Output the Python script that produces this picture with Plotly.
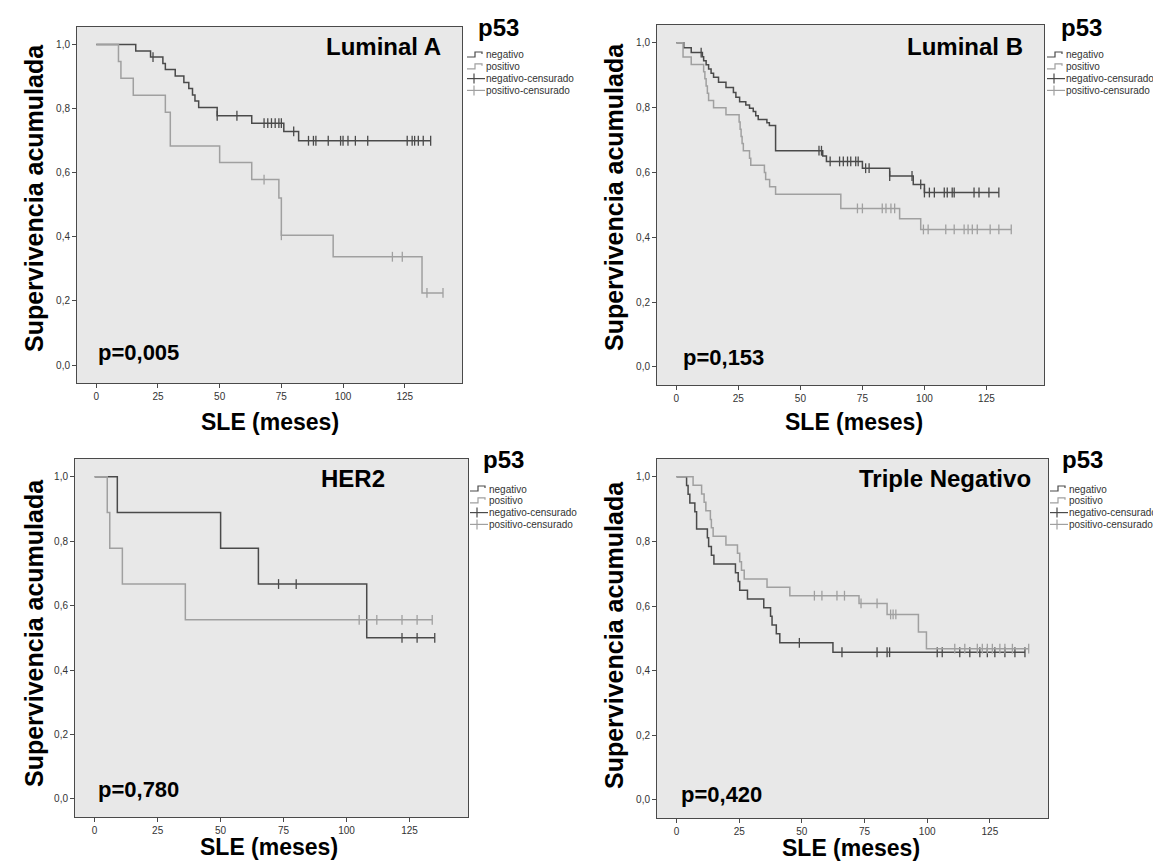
import plotly.graph_objects as go

W, H = 1161, 863

# ---------------- data ----------------
panel_names = ["Luminal A", "Luminal B", "HER2", "Triple Negativo"]
p_values = ["p=0,005", "p=0,153", "p=0,780", "p=0,420"]
legend_labels = ["negativo", "positivo", "negativo-censurado", "positivo-censurado"]
x_ticks = [0, 25, 50, 75, 100, 125]
y_ticks = [0.0, 0.2, 0.4, 0.6, 0.8, 1.0]

# Luminal A
la_neg_t = [16, 22, 27, 28, 32, 35.5, 37.5, 39, 40, 41.5, 49, 63, 76, 82]
la_neg_s = [0.980, 0.961, 0.941, 0.922, 0.902, 0.882, 0.863, 0.843, 0.824, 0.804, 0.778, 0.755, 0.729, 0.700]
la_neg_end = 135.5
la_neg_cens = [23, 49, 57, 68, 69.5, 71, 72.5, 74, 75, 80, 86, 88, 89, 94, 99, 100, 102, 105, 110,
               126, 128, 129, 130.5, 132.5, 135.5]
la_pos_t = [9, 10, 15, 28, 30, 50, 63, 74, 75, 96, 132]
la_pos_s = [0.947, 0.895, 0.842, 0.789, 0.684, 0.632, 0.579, 0.521, 0.405, 0.338, 0.225]
la_pos_end = 140.5
la_pos_cens = [68, 75, 120, 124, 134, 140.5]

# Luminal B
lb_neg_t = [3, 6, 10.5, 11, 12, 13, 14, 15, 17, 20, 23, 24, 25.5, 28, 29.5, 31, 32, 33, 36.5, 37.5,
            40, 59, 60.5, 75, 86, 95.5, 100]
lb_neg_s = [0.985, 0.970, 0.957, 0.945, 0.932, 0.919, 0.906, 0.894, 0.878, 0.862, 0.847, 0.832, 0.818,
            0.808, 0.798, 0.788, 0.775, 0.763, 0.753, 0.745, 0.667, 0.651, 0.634, 0.613, 0.589, 0.563, 0.538]
lb_neg_end = 130
lb_neg_cens = [10, 57.5, 58.5, 62, 65.8, 67.3, 69, 70.3, 72.3, 73.3, 76.3, 77.7, 86, 95, 98.5, 100,
               102, 104, 108, 109.2, 111.2, 112, 120, 122, 126, 130]
lb_pos_t = [2.7, 6, 11, 11.5, 12, 12.5, 13, 15, 20, 25.3, 25.7, 26.1, 26.5, 27, 29.5, 30, 35.5, 36,
            37.6, 40, 66.3, 90, 98.5]
lb_pos_s = [0.956, 0.933, 0.911, 0.889, 0.867, 0.844, 0.822, 0.800, 0.778, 0.756, 0.733, 0.711, 0.689,
            0.667, 0.644, 0.622, 0.600, 0.578, 0.556, 0.533, 0.489, 0.457, 0.424]
lb_pos_end = 135
lb_pos_cens = [73, 75, 83, 84.5, 86.5, 88, 99.6, 101.5, 108.6, 112, 116, 117.6, 119.3, 121.3, 126.5,
               130, 135]

# HER2
h_neg_t = [9, 50, 65, 108]
h_neg_s = [0.889, 0.778, 0.667, 0.500]
h_neg_end = 135
h_neg_cens = [73, 80, 122, 128, 135]
h_pos_t = [5, 6, 11, 36]
h_pos_s = [0.889, 0.778, 0.667, 0.556]
h_pos_end = 134
h_pos_cens = [105, 112, 122, 128, 134]

# Triple Negativo
tn_neg_t = [4, 4.6, 5.3, 7.3, 8, 12.3, 12.8, 13.9, 14.9, 23.5, 24.6, 25.2, 28.3, 34.8, 37.5, 38.1,
            39.8, 41.2, 62.4]
tn_neg_s = [0.973, 0.946, 0.919, 0.892, 0.838, 0.811, 0.784, 0.757, 0.730, 0.703, 0.676, 0.649, 0.622,
            0.595, 0.568, 0.541, 0.514, 0.486, 0.457]
tn_neg_end = 139
tn_neg_cens = [49, 66, 80, 84, 85, 104, 106, 113, 117, 121, 124, 127, 131, 135, 139]
tn_pos_t = [6.6, 10, 11, 11.7, 13.5, 13.9, 14.6, 19.7, 24.3, 25.2, 25.9, 27, 36.1, 45.2, 72.8, 84,
            96.5, 99.7]
tn_pos_s = [0.974, 0.947, 0.921, 0.895, 0.868, 0.842, 0.816, 0.789, 0.763, 0.737, 0.711, 0.684, 0.658,
            0.632, 0.608, 0.574, 0.520, 0.468]
tn_pos_end = 140.5
tn_pos_cens = [55, 58, 64, 67, 73.6, 80, 85.4, 86.4, 87.5, 111, 115, 120, 122, 124, 126, 129, 131, 134,
               140.5]

series = [
    ((la_neg_t, la_neg_s, la_neg_end, la_neg_cens), (la_pos_t, la_pos_s, la_pos_end, la_pos_cens)),
    ((lb_neg_t, lb_neg_s, lb_neg_end, lb_neg_cens), (lb_pos_t, lb_pos_s, lb_pos_end, lb_pos_cens)),
    ((h_neg_t, h_neg_s, h_neg_end, h_neg_cens), (h_pos_t, h_pos_s, h_pos_end, h_pos_cens)),
    ((tn_neg_t, tn_neg_s, tn_neg_end, tn_neg_cens), (tn_pos_t, tn_pos_s, tn_pos_end, tn_pos_cens)),
]

# ---------------- style / layout ----------------
NEG = "#4a4a4a"
POS = "#a0a0a0"
BG = "#e8e8e8"
FRAME = "#4a4a4a"
FONT = "Liberation Sans, Arial, sans-serif"
NARROW = "Liberation Sans Narrow, Liberation Sans, Arial, sans-serif"

# plot boxes in pixels: (left, right, top, bottom)
boxes = [(69, 454, 19, 375), (649, 1036, 17, 377), (67, 460, 451, 809), (649, 1040, 451, 810)]
XR = [-7.8, 148.2]
YR = [-0.056, 1.055]


def px(x):
    return x / W


def py(y):
    return 1 - y / H


def surv_at(times, survs, t):
    s = 1.0
    for ti, si in zip(times, survs):
        if ti <= t:
            s = si
    return s


fig = go.Figure()
annotations = []
shapes = []

for i, (box, (neg, pos)) in enumerate(zip(boxes, series)):
    k = "" if i == 0 else str(i + 1)
    xa, ya = "x" + k, "y" + k
    for (t, s, end, cens), col, name in ((neg, NEG, "negativo"), (pos, POS, "positivo")):
        xs = [0] + list(t) + [end]
        ys = [1.0] + list(s) + [s[-1]]
        fig.add_trace(go.Scatter(x=xs, y=ys, mode="lines", line=dict(color=col, width=1.5, shape="hv"),
                                 xaxis=xa, yaxis=ya, showlegend=False, name=name, hoverinfo="skip"))
        cy = [surv_at(t, s, c) for c in cens]
        fig.add_trace(go.Scatter(x=cens, y=cy, mode="markers",
                                 marker=dict(symbol="line-ns", size=7, line=dict(color=col, width=1.3)),
                                 xaxis=xa, yaxis=ya, showlegend=False, name=name + "-censurado",
                                 hoverinfo="skip"))
    l, r, tp, b = box
    axstyle = dict(showline=True, mirror=True, linecolor=FRAME, linewidth=1, ticks="outside",
                   ticklen=4, tickcolor=FRAME, tickwidth=1, showgrid=False, zeroline=False,
                   tickfont=dict(family=NARROW, size=10, color="#333333"))
    fig.update_layout(**{
        "xaxis" + k: dict(domain=[px(l), px(r)], range=XR, anchor=ya, tickvals=x_ticks, **axstyle),
        "yaxis" + k: dict(domain=[py(b), py(tp)], range=YR, anchor=xa, tickvals=y_ticks,
                          tickformat=".1f", **axstyle),
    })
    shapes.append(dict(type="rect", xref="paper", yref="paper", x0=px(l), x1=px(r), y0=py(b), y1=py(tp),
                       fillcolor=BG, line=dict(width=0), layer="below"))

# text positions (pixels)
name_pos = [(435, 38, "right"), (1017, 38, "right"), (345, 471, "center"), (1025, 471, "right")]
p_pos = [(88, 344), (673, 349), (88, 781), (671, 786)]
p53_pos = [(490, 20), (1073, 19), (495, 451), (1074, 452)]
ytitle_pos = [(26, 190), (606, 189), (26, 625), (606, 627)]
xtitle_pos = [(262, 414), (846, 414), (261, 839), (843, 840)]
legend_x = [459, 1039, 462, 1042]
legend_y0 = [47, 47, 481, 481]
LEG_DY = 11.8

for i in range(4):
    nx, ny, al = name_pos[i]
    annotations.append(dict(text="<b>%s</b>" % panel_names[i], x=px(nx), y=py(ny), xref="paper",
                            yref="paper", xanchor=al, yanchor="middle", showarrow=False,
                            font=dict(family=FONT, size=24, color="#000000")))
    annotations.append(dict(text="<b>%s</b>" % p_values[i], x=px(p_pos[i][0]), y=py(p_pos[i][1]),
                            xref="paper", yref="paper", xanchor="left", yanchor="middle",
                            showarrow=False, font=dict(family=FONT, size=22, color="#000000")))
    annotations.append(dict(text="<b>p53</b>", x=px(p53_pos[i][0]), y=py(p53_pos[i][1]), xref="paper",
                            yref="paper", xanchor="center", yanchor="middle", showarrow=False,
                            font=dict(family=FONT, size=24, color="#000000")))
    annotations.append(dict(text="<b>Supervivencia acumulada</b>", x=px(ytitle_pos[i][0]),
                            y=py(ytitle_pos[i][1]), xref="paper", yref="paper", xanchor="center",
                            yanchor="middle", textangle=-90, showarrow=False,
                            font=dict(family=FONT, size=25, color="#000000")))
    annotations.append(dict(text="<b>SLE (meses)</b>", x=px(xtitle_pos[i][0]), y=py(xtitle_pos[i][1]),
                            xref="paper", yref="paper", xanchor="center", yanchor="middle",
                            showarrow=False, font=dict(family=FONT, size=23, color="#000000")))
    # legend
    lx = legend_x[i]
    for j, lab in enumerate(legend_labels):
        ly = legend_y0[i] + j * LEG_DY
        col = NEG if j % 2 == 0 else POS
        if j < 2:
            path = "M %f,%f L %f,%f L %f,%f L %f,%f L %f,%f" % (
                px(lx), py(ly + 2), px(lx + 8), py(ly + 2), px(lx + 8), py(ly - 3),
                px(lx + 15), py(ly - 3), px(lx + 15), py(ly - 1))
            shapes.append(dict(type="path", xref="paper", yref="paper", path=path,
                               line=dict(color=col, width=1.2)))
        else:
            shapes.append(dict(type="line", xref="paper", yref="paper", x0=px(lx), x1=px(lx + 18),
                               y0=py(ly), y1=py(ly), line=dict(color=col, width=1.2)))
            shapes.append(dict(type="line", xref="paper", yref="paper", x0=px(lx + 7), x1=px(lx + 7),
                               y0=py(ly - 5), y1=py(ly + 5), line=dict(color=col, width=1.2)))
        annotations.append(dict(text=lab, x=px(lx + 17), y=py(ly), xref="paper", yref="paper",
                                xanchor="left", yanchor="middle", showarrow=False,
                                font=dict(family=FONT, size=10, color="#333333")))

fig.update_layout(width=W, height=H, margin=dict(l=0, r=0, t=0, b=0), paper_bgcolor="white",
                  plot_bgcolor=BG, separators=",.", showlegend=False, annotations=annotations,
                  shapes=shapes)

fig.write_html("out.html")
